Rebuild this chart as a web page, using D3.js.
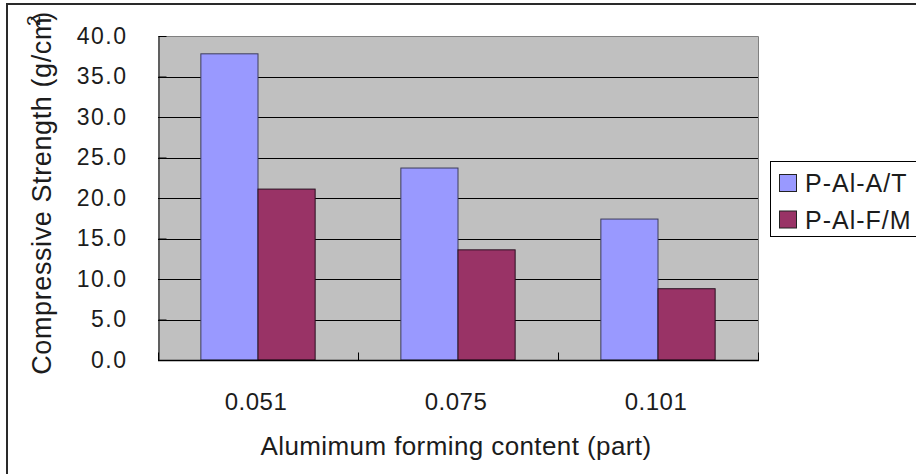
<!DOCTYPE html>
<html>
<head>
<meta charset="utf-8">
<script src="https://cdn.jsdelivr.net/npm/d3@7"></script>
<style>
  html, body { margin: 0; padding: 0; background: #fff; }
  svg { display: block; font-family: "Liberation Sans", Arial, sans-serif; }
</style>
</head>
<body>
<svg id="chart" width="916" height="474"></svg>
<script>
// Compressive strength by aluminium forming content
const categories = ["0.051", "0.075", "0.101"];
const seriesNames = ["P-Al-A/T", "P-Al-F/M"];
const seriesAT = [37.8, 23.7, 17.4];
const seriesFM = [21.1, 13.6, 8.8];
const yTicks = [0, 5, 10, 15, 20, 25, 30, 35, 40];
const colors = ["#9999FF", "#993366"];

const svg = d3.select("#chart");
const plot = { left: 158, right: 758, top: 36, bottom: 360 };
const textColor = "#1c1c1c";

// outer chart frame
svg.append("rect")
  .attr("x", 7).attr("y", 4)
  .attr("width", 1000).attr("height", 1000)
  .attr("fill", "none").attr("stroke", "#2a2a2a").attr("stroke-width", 2);

const x0 = d3.scaleBand().domain(categories)
  .range([plot.left, plot.right]).paddingInner(0).paddingOuter(0);
// two bars per group, gap width 150% of a bar
const x1 = d3.scaleBand().domain(seriesNames)
  .range([0, x0.bandwidth()]).paddingInner(0).paddingOuter(0.75);
const y = d3.scaleLinear().domain([0, 40]).range([plot.bottom, plot.top]);

// plot area background
svg.append("rect")
  .attr("x", plot.left).attr("y", plot.top)
  .attr("width", plot.right - plot.left).attr("height", plot.bottom - plot.top)
  .attr("fill", "#C0C0C0");

// horizontal gridlines
svg.append("g").selectAll("line")
  .data(yTicks.filter(v => v > 0 && v < 40))
  .join("line")
  .attr("x1", plot.left).attr("x2", plot.right)
  .attr("y1", d => Math.round(y(d)) + 0.5).attr("y2", d => Math.round(y(d)) + 0.5)
  .attr("stroke", "#000").attr("stroke-width", 1);

// plot border (top and right)
svg.append("path")
  .attr("d", `M${plot.left},${plot.top + 0.5}H${plot.right + 0.5}V${plot.bottom}`)
  .attr("fill", "none").attr("stroke", "#808080").attr("stroke-width", 1);

// bars
const rows = categories.map((c, i) => ({ cat: c, vals: [seriesAT[i], seriesFM[i]] }));
svg.append("g").selectAll("g")
  .data(rows).join("g")
  .attr("transform", d => `translate(${x0(d.cat)},0)`)
  .selectAll("rect")
  .data(d => d.vals.map((v, k) => ({ name: seriesNames[k], v, k })))
  .join("rect")
  .attr("x", d => x1(d.name))
  .attr("y", d => y(d.v))
  .attr("width", x1.bandwidth())
  .attr("height", d => y(0) - y(d.v))
  .attr("fill", d => colors[d.k])
  .attr("stroke", d => d.k === 0 ? "#3c3c5a" : "#2a1020")
  .attr("stroke-width", 1);

// y axis
const yAxis = d3.axisLeft(y).tickValues(yTicks)
  .tickFormat(d3.format(".1f")).tickSizeInner(-8).tickSizeOuter(0).tickPadding(31);
const gy = svg.append("g").attr("transform", `translate(${plot.left + 0.5},0)`).call(yAxis);
gy.select(".domain").attr("stroke", "#000");
gy.selectAll(".tick line").attr("stroke", "#000");
gy.selectAll(".tick text")
  .attr("fill", textColor).attr("font-size", 23).attr("letter-spacing", 1.5)
  .attr("font-family", "'Liberation Sans', Arial, sans-serif");

// x axis: category labels and inward boundary ticks
const gx = svg.append("g").attr("transform", `translate(0,${plot.bottom + 0.5})`);
gx.append("line")
  .attr("x1", plot.left).attr("x2", plot.right + 1)
  .attr("stroke", "#000").attr("stroke-width", 1.5);
const bounds = categories.map(c => x0(c)).concat([x0(categories[categories.length - 1]) + x0.bandwidth()]);
gx.selectAll("line.tk").data(bounds).join("line").attr("class", "tk")
  .attr("x1", d => Math.round(d) + 0.5).attr("x2", d => Math.round(d) + 0.5)
  .attr("y1", 0).attr("y2", -8).attr("stroke", "#000");
gx.selectAll("text").data(categories).join("text")
  .attr("x", d => x0(d) + x0.bandwidth() / 2 - 2)
  .attr("y", 49)
  .attr("text-anchor", "middle")
  .attr("font-size", 24).attr("letter-spacing", 0.5).attr("fill", textColor)
  .text(d => d);

// axis titles
svg.append("text")
  .attr("x", 456).attr("y", 455)
  .attr("text-anchor", "middle").attr("font-size", 26).attr("letter-spacing", 0.4)
  .attr("fill", textColor)
  .text("Alumimum forming content (part)");

const yt = svg.append("text")
  .attr("transform", "translate(51,193) rotate(-90)")
  .attr("text-anchor", "middle").attr("font-size", 27).attr("letter-spacing", 0.6)
  .attr("fill", textColor);
yt.append("tspan").text("Compressive Strength (g/cm");
yt.append("tspan").attr("dy", -11).attr("dx", -9).attr("font-size", 19).text("2");
yt.append("tspan").attr("dy", 11).attr("dx", -6).text(")");

// legend
const lg = svg.append("g");
lg.append("rect")
  .attr("x", 770.5).attr("y", 161.5).attr("width", 200).attr("height", 75)
  .attr("fill", "#fff").attr("stroke", "#000").attr("stroke-width", 1);
seriesNames.forEach((n, i) => {
  const yy = 174 + i * 36.5;
  lg.append("rect")
    .attr("x", 779.5).attr("y", yy + 0.5).attr("width", 17).attr("height", 17)
    .attr("fill", colors[i]).attr("stroke", "#222");
  lg.append("text")
    .attr("x", 805).attr("y", yy + 18)
    .attr("font-size", 25).attr("letter-spacing", 1).attr("fill", textColor)
    .text(n);
});
</script>
</body>
</html>
